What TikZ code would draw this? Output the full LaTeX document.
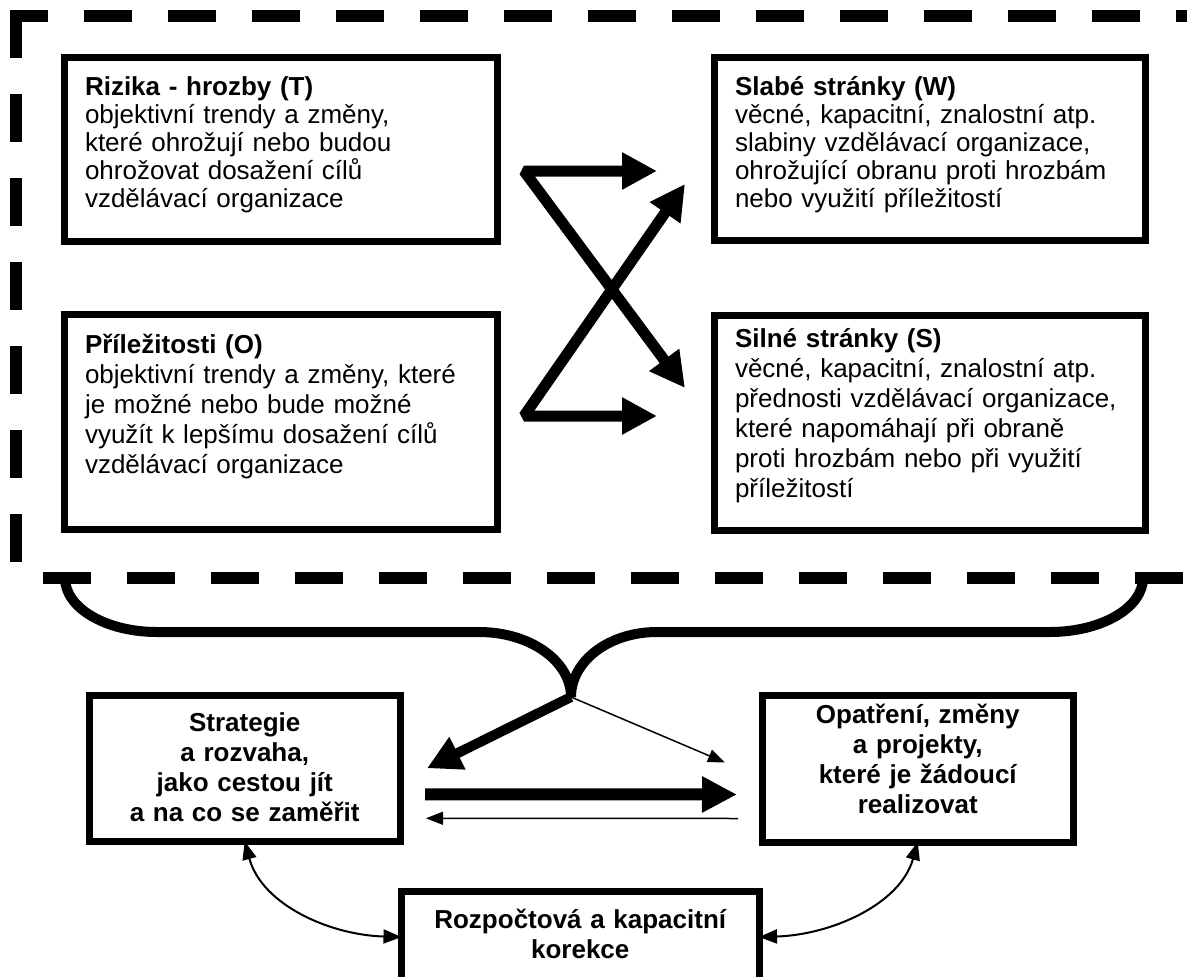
\documentclass[tikz,border=0pt]{standalone}
\usepackage{fontspec}
\setmainfont{Liberation Sans}
\usetikzlibrary{arrows.meta}

\begin{document}
\begin{tikzpicture}[
        x=1pt, y=-1pt,
        swot/.style={rectangle, draw, line width=7pt, outer sep=0pt, anchor=north west, align=left, inner xsep=20.5pt, inner ysep=0pt, font=\fontsize{26}{28}\selectfont},
        blok/.style={rectangle, draw, line width=7pt, outer sep=0pt, anchor=north west, align=center, inner xsep=0pt, inner ysep=0pt, font=\fontsize{26}{30}\selectfont\bfseries},
        ramec/.style={line width=12pt, dash pattern=on 48pt off 36pt},
        zavorka/.style={line width=10pt},
        zsipka/.style={line width=11pt, line join=bevel, {Triangle[length=35pt, width=35pt]}-{Triangle[length=35pt, width=35pt]}},
        sipka/.style={line width=10pt, -{Triangle[length=34pt, width=34pt]}},
        tlusta/.style={line width=12pt, -{Triangle[length=35pt, width=34pt]}},
        tenka/.style={line width=1.5pt, -{Triangle[length=17pt, width=13pt]}},
        oblouk/.style={line width=2pt, {Triangle[length=18pt, width=14pt]}-{Triangle[length=18pt, width=14pt]}}
    ]
        \useasboundingbox (0,0) rectangle (1187,977);

        \draw[ramec, dash phase=10pt] (10,16) -- (1187,16);
        \draw[ramec] (16,10) -- (16,578);
        \draw[ramec] (43,578) -- (1187,578);

        \node[swot, text width=391.5pt, text height=38pt, text depth=146pt] (hrozby) at (64.5,57) {\textbf{Rizika - hrozby (T)}\\objektivní trendy a změny,\\které ohrožují nebo budou\\ohrožovat dosažení cílů\\vzdělávací organizace};
        \node[swot, text width=389.5pt, text height=37.5pt, text depth=145.5pt] (slabe) at (714.5,57.5) {\textbf{Slabé stránky (W)}\\věcné, kapacitní, znalostní atp.\\slabiny vzdělávací organizace,\\ohrožující obranu proti hrozbám\\nebo využití příležitostí};
        \node[swot, font=\fontsize{26}{30}\selectfont, text width=391.5pt, text height=38.5pt, text depth=176.5pt] (prilez) at (64.5,314.5) {\textbf{Příležitosti (O)}\\objektivní trendy a změny, které\\je možné nebo bude možné\\využít k lepšímu dosažení cílů\\vzdělávací organizace};
        \node[swot, font=\fontsize{26}{30}\selectfont, text width=389.5pt, text height=32pt, text depth=183pt] (silne) at (714.5,315) {\textbf{Silné stránky (S)}\\věcné, kapacitní, znalostní atp.\\přednosti vzdělávací organizace,\\které napomáhají při obraně\\proti hrozbám nebo při využití\\příležitostí};

        \node[blok, text width=310.5pt, text height=36pt, text depth=110.5pt] (strat) at (89.5,695) {Strategie\\a rozvaha,\\jako cestou jít\\a na co se zaměřit};
        \node[blok, text width=311.5pt, text height=28pt, text depth=119pt] (opat) at (762,695) {Opatření, změny\\a projekty,\\které je žádoucí\\realizovat};
        \node[blok, text width=357.5pt, text height=36.5pt, text depth=54.5pt] (rozp) at (401.5,891.5) {Rozpočtová a kapacitní\\korekce};

        \coordinate (t0) at (524,171);
        \coordinate (t1) at (657,171);
        \coordinate (t2) at (685,388);
        \coordinate (o0) at (524,416);
        \coordinate (o1) at (657,416);
        \coordinate (o2) at (685,184);
        \draw[zsipka] (t1) -- (t0) -- (t2);
        \draw[zsipka] (o1) -- (o0) -- (o2);

        \coordinate (lkraj) at (65,578);
        \coordinate (pkraj) at (1143,578);
        \coordinate (hrot) at (571,697);
        \draw[zavorka] (lkraj) .. controls (65,608) and (106,632) .. (157,632) -- (479,632) .. controls (530,632) and (571,661) .. (hrot);
        \draw[zavorka] (pkraj) .. controls (1143,608) and (1101,632) .. (1050,632) -- (657,632) .. controls (609,632) and (571,661) .. (hrot);

        \draw[sipka] (hrot) -- ([xshift=27pt]strat.east);
        \draw[tenka] (hrot) -- ([xshift=-37pt, yshift=6pt]opat.west);
        \draw[tlusta] ([xshift=25pt, yshift=-26pt]strat.east) -- ([xshift=-25pt, yshift=-26pt]opat.west);
        \draw[tenka] ([xshift=-24pt, yshift=-50pt]opat.west) -- ([xshift=26pt, yshift=-50pt]strat.east);

        \draw[oblouk] (strat.south) .. controls (262,905) and (330,935) .. (rozp.west);
        \draw[oblouk] (opat.south) .. controls (900,905) and (830,935) .. (rozp.east);
    \end{tikzpicture}
\end{document}
